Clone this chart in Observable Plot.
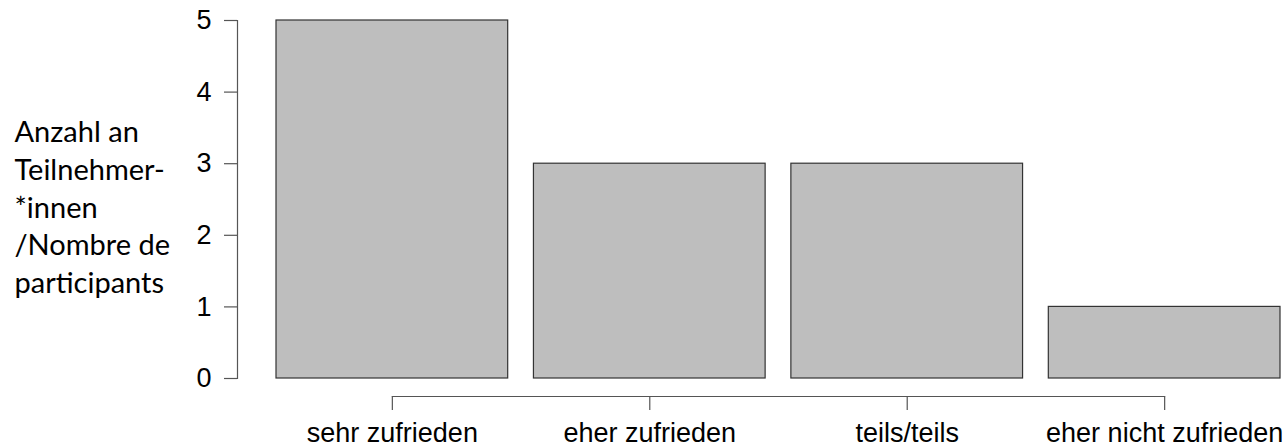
<!DOCTYPE html>
<html>
<head>
<meta charset="utf-8">
<script src="https://cdn.jsdelivr.net/npm/d3@7"></script>
<script src="https://cdn.jsdelivr.net/npm/@observablehq/plot@0.6"></script>
<style>
  html, body { margin: 0; padding: 0; background: #fff; }
</style>
</head>
<body>
<div id="chart"></div>
<script>
const categories = ["sehr zufrieden", "eher zufrieden", "teils/teils", "eher nicht zufrieden"];
const counts = [5, 3, 3, 1];
const yTicks = [0, 1, 2, 3, 4, 5];
const yLabelLines = ["Anzahl an", "Teilnehmer-", "*innen", "/Nombre de", "participants"];

const data = categories.map((c, i) => ({category: c, count: counts[i]}));

const chart = Plot.plot({
  width: 1287,
  height: 448,
  marginLeft: 237,
  marginRight: 7,
  marginTop: 20,
  marginBottom: 70,
  x: {domain: categories, range: [276, 1280], paddingInner: 0.1, paddingOuter: 0, round: false, label: null},
  y: {domain: [0, 5], label: null},
  style: {fontFamily: "'Liberation Sans', Arial, sans-serif", fontSize: "27px", background: "#fff", color: "#000"},
  marks: [
    Plot.barY(data, {x: "category", y: "count", fill: "#bebebe", stroke: "#333", strokeWidth: 1.2}),
    Plot.frame({anchor: "left", stroke: "#555", strokeWidth: 1.2}),
    Plot.axisY({ticks: yTicks, tickSize: 13, tickPadding: 13, tickFormat: d => String(d), fontSize: 27, stroke: "#555", strokeWidth: 1.2, label: null}),
    Plot.line(categories, {x: d => d, y: () => 0, dy: 18, stroke: "#555", strokeWidth: 1.2}),
    Plot.axisX({tickSize: 14, dy: 18, tickPadding: 12, fontSize: 27, stroke: "#555", strokeWidth: 1.2, label: null}),
    Plot.text([yLabelLines.join("\n")], {
      frameAnchor: "top-left", textAnchor: "start", lineAnchor: "top",
      dx: -223, dy: 95, lineHeight: 1.30,
      fontFamily: "Lato, 'Open Sans', sans-serif", fontSize: 29, fill: "#000"
    })
  ]
});
document.getElementById("chart").appendChild(chart);
</script>
</body>
</html>
